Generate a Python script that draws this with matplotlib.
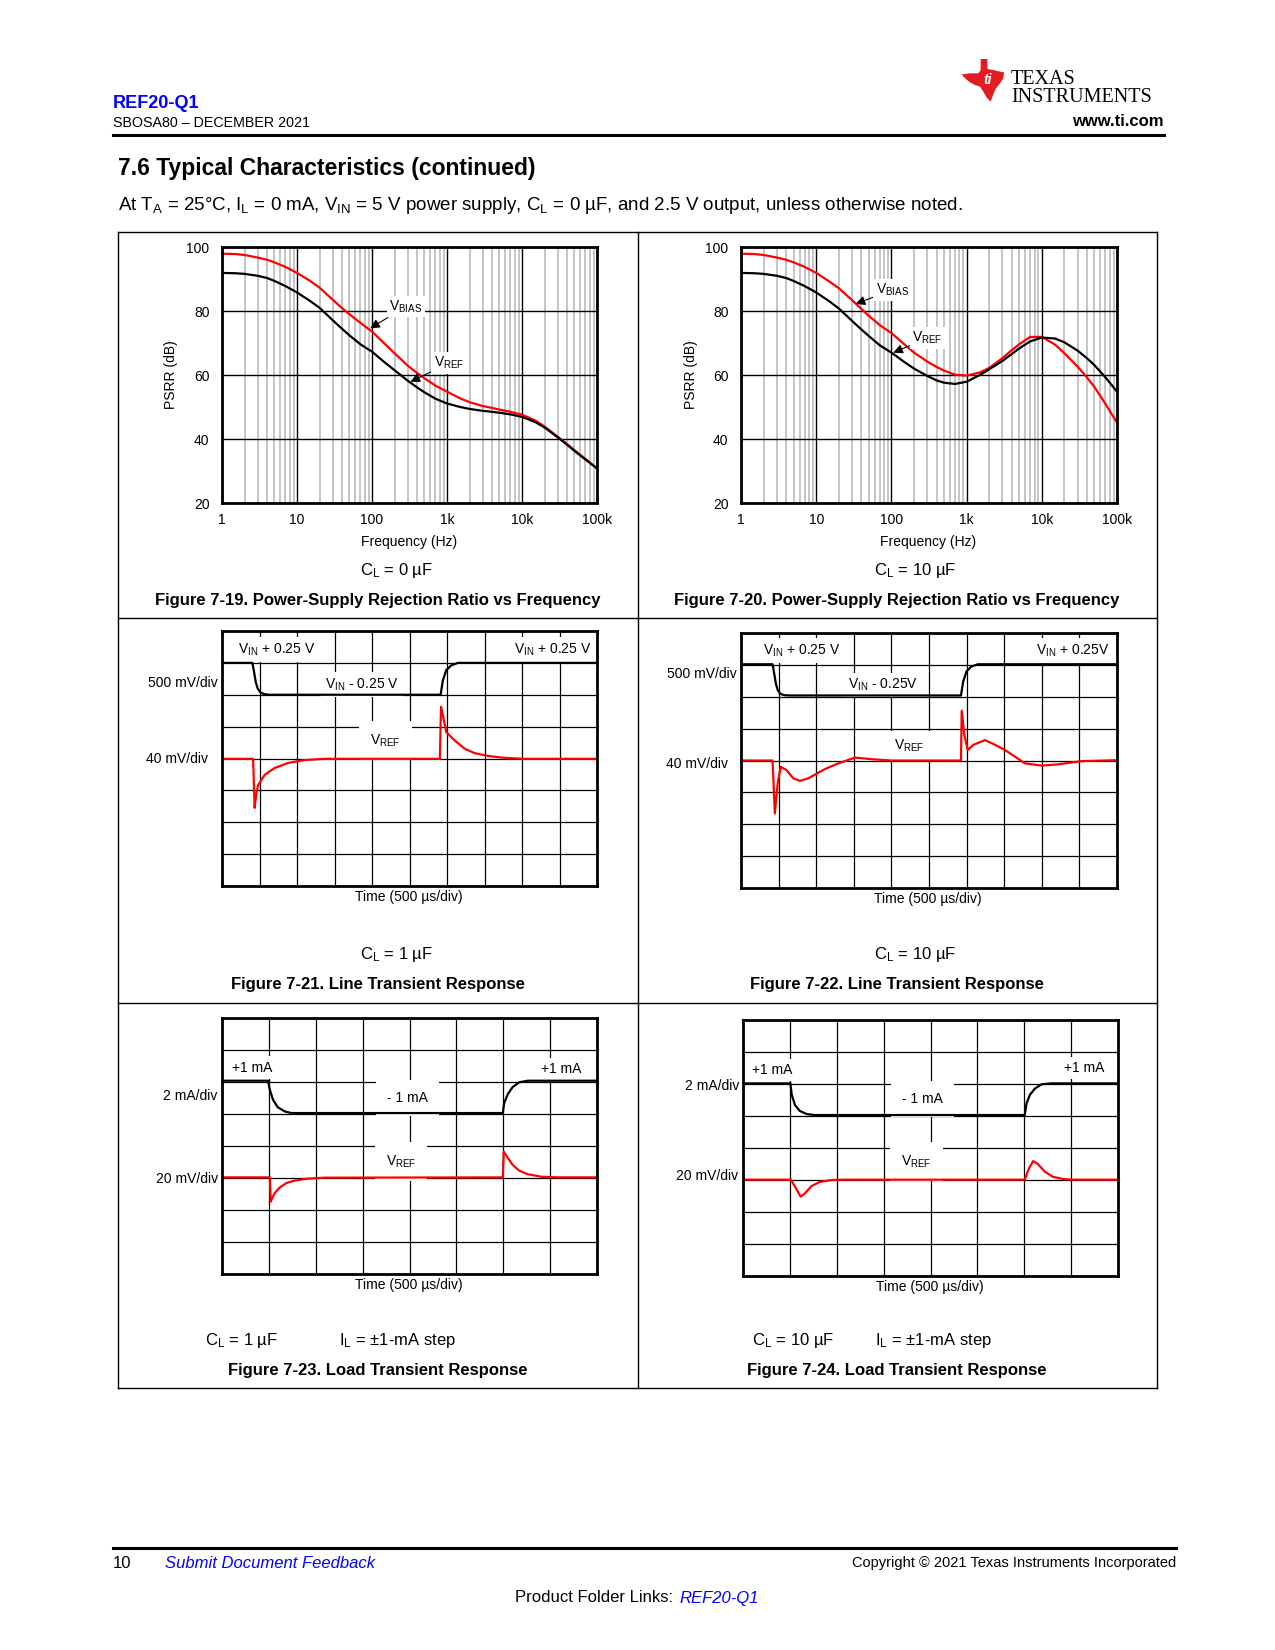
import matplotlib
matplotlib.use('Agg')
import matplotlib.pyplot as plt
from matplotlib.ticker import LogLocator, NullFormatter
from matplotlib.patches import Polygon
from matplotlib.lines import Line2D

plt.rcParams['font.family'] = ['Liberation Sans', 'DejaVu Sans']
plt.rcParams['mathtext.default'] = 'regular'

# ---------------- data ----------------
freq_ticks = [1, 10, 100, 1000, 10000, 100000]
freq_ticklabels = ['1', '10', '100', '1k', '10k', '100k']
psrr_ticks = [20, 40, 60, 80, 100]

freq_points = [1, 1.5, 2, 3, 4, 5, 7, 10, 15, 20, 30, 40, 50, 70, 100, 150, 200, 300,
               400, 500, 700, 1000, 1500, 2000, 3000, 4000, 5000, 7000, 10000, 15000,
               20000, 30000, 40000, 50000, 70000, 100000]

# Figure 7-19 (CL = 0 uF)
vbias_fig19 = [97.9, 97.8, 97.5, 96.7, 96.0, 95.2, 93.8, 91.9, 89.4, 87.3, 83.5, 80.9,
               79.0, 76.3, 73.6, 69.6, 66.8, 62.9, 60.6, 59.0, 56.7, 54.8, 52.7, 51.5,
               50.3, 49.7, 49.2, 48.5, 47.6, 45.8, 43.9, 40.7, 38.4, 36.5, 33.8, 30.8]
vref_fig19 = [91.9, 91.8, 91.6, 91.0, 90.3, 89.4, 87.8, 85.8, 83.1, 81.0, 77.1, 74.4,
              72.4, 69.6, 67.3, 63.8, 61.5, 58.2, 56.1, 54.6, 52.6, 51.1, 50.0, 49.4,
              48.8, 48.5, 48.2, 47.7, 46.9, 45.3, 43.6, 40.5, 38.2, 36.3, 33.6, 30.8]

# Figure 7-20 (CL = 10 uF)
vbias_fig20 = [97.9, 97.8, 97.5, 96.7, 96.0, 95.2, 93.8, 91.9, 89.2, 87.1, 83.4, 80.6,
               78.5, 75.6, 73.1, 69.5, 67.0, 64.2, 62.5, 61.4, 60.1, 59.8, 60.8, 62.2,
               65.3, 67.8, 69.6, 71.9, 71.9, 69.5, 66.8, 62.6, 59.2, 56.3, 51.0, 45.1]
vref_fig20 = [91.9, 91.8, 91.6, 91.0, 90.3, 89.4, 87.8, 85.8, 83.0, 80.8, 76.9, 74.2,
              72.2, 69.3, 67.0, 64.0, 62.0, 59.7, 58.3, 57.6, 57.2, 57.9, 60.0, 61.8,
              64.4, 66.6, 68.3, 70.5, 71.7, 71.4, 70.2, 67.6, 65.2, 63.1, 59.3, 54.8]

# Figure 7-21 (line transient, CL = 1 uF), in scope divisions
t21_vin = [0, 0.81, 0.85, 0.90, 0.95, 1.02, 1.12, 1.25, 5.83, 5.89, 5.98, 6.11, 6.29, 10]
y21_vin = [7.0, 7.0, 6.75, 6.4, 6.2, 6.08, 6.02, 6.0, 6.0, 6.45, 6.77, 6.92, 7.0, 7.0]
t21_ref = [0, 0.83, 0.87, 0.91, 0.96, 1.14, 1.40, 1.76, 2.20, 2.74, 5.81, 5.84, 5.89,
           5.98, 6.20, 6.47, 6.73, 7.09, 7.53, 8.06, 10]
y21_ref = [3.99, 3.99, 2.45, 2.85, 3.16, 3.49, 3.70, 3.86, 3.95, 3.99, 3.99, 5.62, 5.36,
           4.83, 4.57, 4.31, 4.17, 4.08, 4.02, 3.99, 3.99]

# Figure 7-22 (line transient, CL = 10 uF)
t22_vin = [0, 0.84, 0.88, 0.93, 0.98, 1.05, 1.15, 1.30, 5.85, 5.91, 6.00, 6.13, 6.30, 10]
y22_vin = [7.02, 7.02, 6.75, 6.4, 6.2, 6.09, 6.05, 6.04, 6.04, 6.48, 6.8, 6.95, 7.02, 7.02]
t22_ref = [0, 0.84, 0.90, 0.98, 1.06, 1.21, 1.39, 1.57, 1.79, 2.23, 2.59, 3.03, 3.48,
           4.01, 5.85, 5.87, 5.94, 6.03, 6.18, 6.49, 6.76, 7.02, 7.29, 7.55, 8.0,
           8.44, 9.06, 10]
y22_ref = [4.0, 4.0, 2.34, 3.33, 3.80, 3.70, 3.44, 3.36, 3.44, 3.73, 3.91, 4.09, 4.04,
           4.0, 4.0, 5.56, 4.80, 4.33, 4.49, 4.64, 4.49, 4.33, 4.12, 3.91, 3.84,
           3.88, 3.98, 4.01]

# Figure 7-23 (load transient, CL = 1 uF)
t23_il = [0, 0.98, 1.02, 1.09, 1.19, 1.34, 1.48, 5.99, 6.02, 6.10, 6.20, 6.34, 6.52, 8]
y23_il = [6.04, 6.04, 5.76, 5.44, 5.21, 5.08, 5.03, 5.03, 5.34, 5.63, 5.84, 5.99, 6.04, 6.04]
t23_ref = [0, 1.02, 1.04, 1.12, 1.23, 1.37, 1.55, 1.83, 2.19, 5.99, 6.01, 6.10, 6.20,
           6.34, 6.52, 6.81, 7.16, 8]
y23_ref = [3.02, 3.02, 2.26, 2.52, 2.70, 2.84, 2.92, 2.98, 3.01, 3.02, 3.83, 3.62, 3.41,
           3.23, 3.12, 3.04, 3.02, 3.02]

# Figure 7-24 (load transient, CL = 10 uF)
t24_il = [0, 1.01, 1.04, 1.11, 1.21, 1.36, 1.53, 6.01, 6.05, 6.12, 6.23, 6.37, 6.58, 8]
y24_il = [6.02, 6.02, 5.66, 5.34, 5.16, 5.06, 5.03, 5.03, 5.4, 5.66, 5.86, 5.99, 6.02, 6.02]
t24_ref = [0, 1.02, 1.11, 1.23, 1.32, 1.46, 1.64, 1.89, 2.17, 6.01, 6.10, 6.19, 6.29,
           6.44, 6.61, 6.83, 7.0, 8]
y24_ref = [3.01, 3.01, 2.79, 2.48, 2.58, 2.81, 2.94, 3.0, 3.01, 3.01, 3.36, 3.59, 3.5,
           3.26, 3.10, 3.03, 3.01, 3.01]

# ---------------- layout helpers ----------------
W, H = 1275, 1650
fig = plt.figure(figsize=(W / 100, H / 100), dpi=100)
RED = '#ff0000'
BLUE = '#0000ff'


def fx(x):
    return x / W


def fy(y):
    return 1 - y / H


def ftext(x, y, s, **kw):
    kw.setdefault('va', 'center')
    fig.text(fx(x), fy(y), s, **kw)


def hline(x0, x1, y, lw=1.0, color='black'):
    fig.add_artist(Line2D([fx(x0), fx(x1)], [fy(y), fy(y)], color=color, lw=lw))


def vline(x, y0, y1, lw=1.0, color='black'):
    fig.add_artist(Line2D([fx(x), fx(x)], [fy(y0), fy(y1)], color=color, lw=lw))


def add_ax(l, t, r, b):
    return fig.add_axes([l / W, 1 - b / H, (r - l) / W, (b - t) / H])


# ---------------- header ----------------
ftext(113, 103, 'REF20-Q1', color=BLUE, fontsize=13, fontweight='bold', ha='left')
ftext(113, 123, 'SBOSA80 – DECEMBER 2021', fontsize=10.3, ha='left')
ftext(1164, 122, 'www.ti.com', fontsize=12, fontweight='bold', ha='right')
hline(113, 1164, 135, lw=2.2)

# TI logo
logo_pts = [(92, 12), (112, 12), (112, 42), (130, 45), (150, 50), (162, 52), (160, 70),
            (150, 85), (138, 100), (130, 118), (122, 140), (110, 128), (100, 110),
            (90, 95), (75, 90), (60, 82), (45, 70), (35, 58), (60, 55), (85, 55), (92, 45)]
fig.add_artist(Polygon([(fx(950 + a / 3), fy(55 + b / 3)) for a, b in logo_pts],
                       closed=True, fc='#e31b23', ec='none', transform=fig.transFigure))
ftext(988, 80, 'ti', color='white', fontsize=10, fontweight='bold', style='italic', ha='center')
ftext(1011, 83.5, 'TEXAS', fontsize=14.5, ha='left', va='baseline', family='Liberation Serif')
ftext(1011, 101.7, 'INSTRUMENTS', fontsize=14.5, ha='left', va='baseline',
      family='Liberation Serif')

ftext(118, 168, '7.6 Typical Characteristics (continued)', fontsize=16.5,
      fontweight='bold', ha='left')
ftext(118, 205, 'At T$_A$ = 25°C, I$_L$ = 0 mA, V$_{IN}$ = 5 V power supply, '
      'C$_L$ = 0 µF, and 2.5 V output, unless otherwise noted.', fontsize=13.5, ha='left')

# ---------------- panel frame ----------------
hline(118, 1157, 232)
hline(118, 1157, 618)
hline(118, 1157, 1003)
hline(118, 1157, 1388)
vline(118, 232, 1388)
vline(637.5, 232, 1388)
vline(1157, 232, 1388)


# ---------------- PSRR plots ----------------
def psrr_plot(ax, freq, vbias, vref, ann):
    ax.plot(freq, vbias, color=RED, lw=1.6, zorder=2)
    ax.plot(freq, vref, color='black', lw=1.6, zorder=2)
    ax.set_xscale('log')
    ax.set_xlim(1, 1e5)
    ax.set_ylim(20, 100)
    ax.set_xticks(freq_ticks)
    ax.set_xticklabels(freq_ticklabels)
    ax.xaxis.set_minor_locator(LogLocator(base=10, subs=range(2, 10), numticks=30))
    ax.xaxis.set_minor_formatter(NullFormatter())
    ax.set_yticks(psrr_ticks)
    ax.grid(which='minor', axis='x', color='#c0c0c0', lw=1.3)
    ax.grid(which='major', color='black', lw=1.0)
    ax.set_axisbelow(True)
    ax.tick_params(which='both', length=0, labelsize=10)
    ax.tick_params(axis='y', pad=9)
    ax.tick_params(axis='x', pad=7)
    for s in ax.spines.values():
        s.set_linewidth(2)
    for label, xy, xytext in ann:
        ax.annotate(label, xy=xy, xytext=xytext, fontsize=10, ha='left', va='center',
                    bbox=dict(boxstyle='square,pad=0.2', fc='white', ec='none'),
                    arrowprops=dict(arrowstyle='-|>', color='black', lw=0.8,
                                    mutation_scale=14, shrinkA=0, shrinkB=0),
                    zorder=4)


ax1 = add_ax(222, 247, 597, 503)
psrr_plot(ax1, freq_points, vbias_fig19, vref_fig19,
          [('V$_{BIAS}$', (94.6, 74.6), (171, 81.4)),
           ('V$_{REF}$', (326, 57.9), (667, 63.7))])
ftext(171, 375, 'PSRR (dB)', rotation=90, ha='center', fontsize=10)
ftext(409, 542, 'Frequency (Hz)', ha='center', fontsize=10)
ftext(396, 570, 'C$_L$ = 0 µF', ha='center', fontsize=12)
ftext(378, 600, 'Figure 7-19. Power-Supply Rejection Ratio vs Frequency', ha='center',
      fontsize=12, fontweight='bold')

ax2 = add_ax(741, 247, 1117, 503)
psrr_plot(ax2, freq_points, vbias_fig20, vref_fig20,
          [('V$_{BIAS}$', (33.5, 82.2), (61.8, 86.6)),
           ('V$_{REF}$', (106, 67.0), (190, 71.5))])
ftext(691, 375, 'PSRR (dB)', rotation=90, ha='center', fontsize=10)
ftext(928, 542, 'Frequency (Hz)', ha='center', fontsize=10)
ftext(915, 570, 'C$_L$ = 10 µF', ha='center', fontsize=12)
ftext(897, 600, 'Figure 7-20. Power-Supply Rejection Ratio vs Frequency', ha='center',
      fontsize=12, fontweight='bold')


# ---------------- scope plots ----------------
def scope_plot(ax, ncols, tb, yb, tr, yr, labels):
    ax.set_xlim(0, ncols)
    ax.set_ylim(0, 8)
    ax.set_xticks(range(ncols + 1))
    ax.set_yticks(range(9))
    ax.set_xticklabels([])
    ax.set_yticklabels([])
    ax.tick_params(length=0)
    ax.grid(True, color='black', lw=0.9)
    ax.set_axisbelow(True)
    for s in ax.spines.values():
        s.set_linewidth(2)
        s.set_zorder(5)
    ax.plot(tb, yb, color='black', lw=1.6, zorder=2)
    ax.plot(tr, yr, color=RED, lw=1.6, zorder=2)
    for s, x, y, ha, pad in labels:
        ax.text(x, y, s, fontsize=10, ha=ha, va='center', zorder=1.5,
                bbox=dict(boxstyle='square,pad=%g' % pad, fc='white', ec='none'))


ax3 = add_ax(222, 631, 597, 886)
scope_plot(ax3, 10, t21_vin, y21_vin, t21_ref, y21_ref,
           [('V$_{IN}$ + 0.25 V', 0.44, 7.42, 'left', 0.3),
            ('V$_{IN}$ + 0.25 V', 9.84, 7.42, 'right', 0.3),
            ('V$_{IN}$ - 0.25 V', 2.75, 6.32, 'left', 0.3),
            ('V$_{REF}$', 3.95, 4.57, 'left', 0.8)])
ftext(148, 683, '500 mV/div', ha='left', fontsize=10)
ftext(146, 759, '40 mV/div', ha='left', fontsize=10)
ftext(409, 897, 'Time (500 µs/div)', ha='center', fontsize=10)
ftext(396, 955, 'C$_L$ = 1 µF', ha='center', fontsize=12)
ftext(378, 985, 'Figure 7-21. Line Transient Response', ha='center', fontsize=12,
      fontweight='bold')

ax4 = add_ax(741, 633, 1117, 888)
scope_plot(ax4, 10, t22_vin, y22_vin, t22_ref, y22_ref,
           [('V$_{IN}$ + 0.25 V', 0.59, 7.44, 'left', 0.3),
            ('V$_{IN}$ + 0.25V', 9.81, 7.44, 'right', 0.3),
            ('V$_{IN}$ - 0.25V', 2.84, 6.37, 'left', 0.3),
            ('V$_{REF}$', 4.07, 4.45, 'left', 0.5)])
ftext(667, 674, '500 mV/div', ha='left', fontsize=10)
ftext(666, 764, '40 mV/div', ha='left', fontsize=10)
ftext(928, 899, 'Time (500 µs/div)', ha='center', fontsize=10)
ftext(915, 955, 'C$_L$ = 10 µF', ha='center', fontsize=12)
ftext(897, 985, 'Figure 7-22. Line Transient Response', ha='center', fontsize=12,
      fontweight='bold')

ax5 = add_ax(222, 1018, 597, 1274)
scope_plot(ax5, 8, t23_il, y23_il, t23_ref, y23_ref,
           [('+1 mA', 0.21, 6.45, 'left', 0.3),
            ('+1 mA', 7.66, 6.40, 'right', 0.3),
            ('- 1 mA', 3.96, 5.50, 'center', 0.8),
            ('V$_{REF}$', 3.82, 3.51, 'center', 0.8)])
ftext(217, 1096, '2 mA/div', ha='right', fontsize=10)
ftext(218, 1179, '20 mV/div', ha='right', fontsize=10)
ftext(409, 1285, 'Time (500 µs/div)', ha='center', fontsize=10)
ftext(205, 1341, 'C$_L$ = 1 µF', ha='left', fontsize=12)
ftext(339, 1341, 'I$_L$ = ±1-mA step', ha='left', fontsize=12)
ftext(378, 1370, 'Figure 7-23. Load Transient Response', ha='center', fontsize=12,
      fontweight='bold')

ax6 = add_ax(743, 1020, 1118, 1276)
scope_plot(ax6, 8, t24_il, y24_il, t24_ref, y24_ref,
           [('+1 mA', 0.20, 6.44, 'left', 0.3),
            ('+1 mA', 7.72, 6.49, 'right', 0.3),
            ('- 1 mA', 3.82, 5.53, 'center', 0.8),
            ('V$_{REF}$', 3.70, 3.57, 'center', 0.8)])
ftext(739, 1086, '2 mA/div', ha='right', fontsize=10)
ftext(738, 1176, '20 mV/div', ha='right', fontsize=10)
ftext(930, 1287, 'Time (500 µs/div)', ha='center', fontsize=10)
ftext(752, 1341, 'C$_L$ = 10 µF', ha='left', fontsize=12)
ftext(875, 1341, 'I$_L$ = ±1-mA step', ha='left', fontsize=12)
ftext(897, 1370, 'Figure 7-24. Load Transient Response', ha='center', fontsize=12,
      fontweight='bold')

# ---------------- footer ----------------
hline(113, 1176, 1547.5, lw=2.2)
ftext(113, 1564, '10', ha='left', fontsize=12)
ftext(165, 1564, 'Submit Document Feedback', ha='left', fontsize=12, color=BLUE,
      style='italic')
ftext(1176, 1563, 'Copyright © 2021 Texas Instruments Incorporated', ha='right',
      fontsize=10.5)
ftext(673, 1598, 'Product Folder Links:', ha='right', fontsize=12)
ftext(679, 1598, 'REF20-Q1', ha='left', fontsize=12, color=BLUE, style='italic')

fig.savefig('out.png', dpi=100)
